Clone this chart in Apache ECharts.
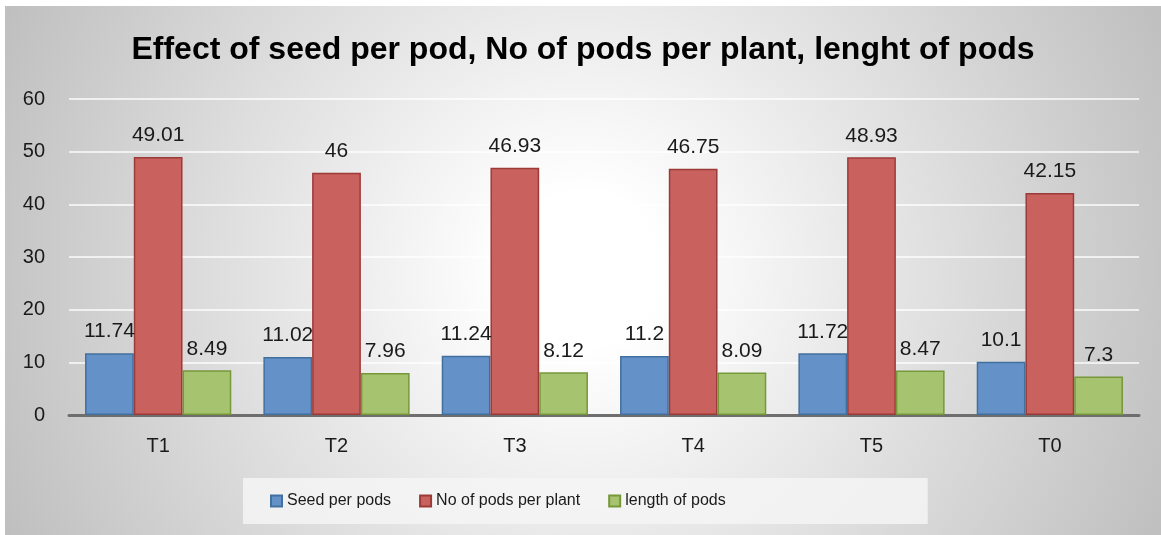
<!DOCTYPE html>
<html>
<head>
  <meta charset="utf-8">
  <title>Effect of seed per pod</title>
  <script src="https://cdn.jsdelivr.net/npm/echarts@6/dist/echarts.min.js"></script>
  <style>
    html, body { margin: 0; padding: 0; background: #fff; }
    #podChart {
      position: absolute; left: 5px; top: 6px;
      width: 1156px; height: 529px;
      background: radial-gradient(circle farthest-corner at 50% 50%, #ffffff 0%, #ffffff 12%, #bfbfbf 100%);
    }
  </style>
</head>
<body>
  <div id="podChart"></div>
  <script>
  // 数据
  var categories = ['T1', 'T2', 'T3', 'T4', 'T5', 'T0'];
  var seedPerPods = [11.74, 11.02, 11.24, 11.2, 11.72, 10.1];
  var podsPerPlant = [49.01, 46, 46.93, 46.75, 48.93, 42.15];
  var lengthOfPods = [8.49, 7.96, 8.12, 8.09, 8.47, 7.3];

  var podChart = echarts.init(document.getElementById('podChart'));

  var labelCfg = {
    show: true,
    position: 'top',
    distance: 11,
    color: '#1a1a1a',
    fontSize: 21,
    fontFamily: 'Liberation Sans'
  };

  function barSeries(name, data, color, border) {
    return {
      name: name,
      type: 'bar',
      data: data,
      barGap: '0%',
      barCategoryGap: '18%',
      itemStyle: { color: color, borderColor: border, borderWidth: 1.5 },
      label: labelCfg
    };
  }

  var option = {
    animation: false,
    backgroundColor: 'transparent',
    textStyle: { fontFamily: 'Liberation Sans' },
    title: {
      text: 'Effect of seed per pod, No of pods per plant, lenght of pods',
      left: 'center',
      top: 23,
      textStyle: { fontSize: 32, fontWeight: 'bold', color: '#000', fontFamily: 'Liberation Sans' }
    },
    legend: {
      left: 238,
      top: 472,
      padding: [15, 202, 15, 27],
      backgroundColor: 'rgba(245,245,245,0.85)',
      itemWidth: 11,
      itemHeight: 11,
      itemGap: 28,
      icon: 'rect',
      textStyle: { fontSize: 16, color: '#1a1a1a', fontFamily: 'Liberation Sans' },
      data: ['Seed per pods', 'No of pods per plant', 'length of pods']
    },
    grid: { left: 64, right: 22, top: 93, bottom: 120 },
    xAxis: {
      type: 'category',
      data: categories,
      axisLine: { lineStyle: { color: '#6e6e6e', width: 3 } },
      axisTick: { show: false },
      axisLabel: { fontSize: 20, color: '#1a1a1a', margin: 21 }
    },
    yAxis: {
      type: 'value',
      min: 0,
      max: 60,
      interval: 10,
      axisLine: { show: false },
      axisTick: { show: false },
      axisLabel: { fontSize: 20, color: '#1a1a1a', margin: 24 },
      splitLine: { lineStyle: { color: 'rgba(255,255,255,0.7)', width: 2 } }
    },
    series: [
      barSeries('Seed per pods', seedPerPods, '#6591c9', '#41709f'),
      barSeries('No of pods per plant', podsPerPlant, '#c9625f', '#9c3a37'),
      barSeries('length of pods', lengthOfPods, '#a6c46f', '#77973b')
    ]
  };

  podChart.setOption(option);
  </script>
</body>
</html>
